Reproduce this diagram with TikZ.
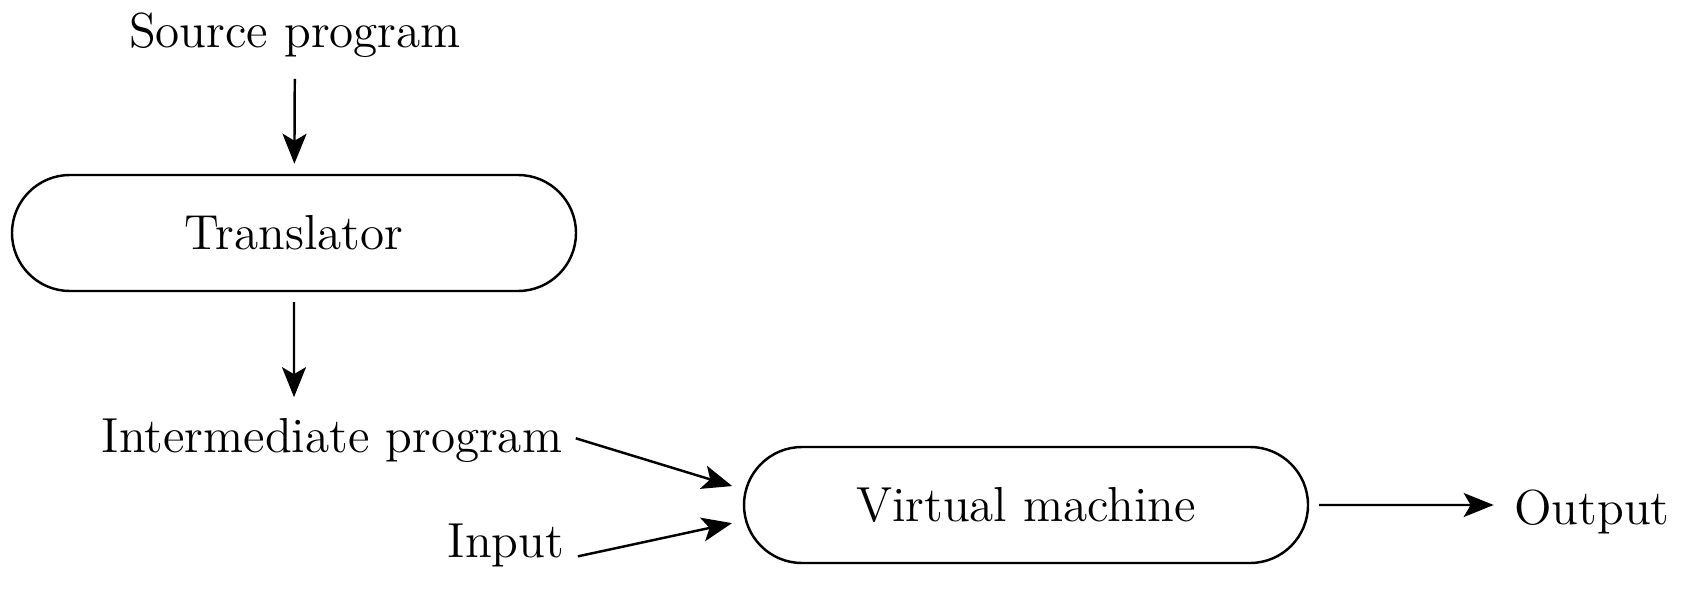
\documentclass[tikz,border=0pt]{standalone}
\usetikzlibrary{shapes.misc,arrows.meta}
\tikzset{every node/.style={font=\fontsize{14}{16}\selectfont, inner sep=1mm},
  stadium/.style={rounded rectangle, draw, line width=0.7pt, minimum width=5.84cm, minimum height=1.16cm},
  flow/.style={-{Stealth[length=3mm,width=2.4mm,inset=0.7mm]}, line width=0.7pt, shorten >=1mm, shorten <=1mm}}

\begin{document}
\begin{tikzpicture}
  \useasboundingbox (0,0) rectangle (16.86,-5.95);
  \node[anchor=base] (src) at (2.95,-0.48) {Source program};
  \node[stadium] (trans) at (2.94,-2.33) {Translator};
  \node[anchor=base] (inter) at (3.32,-4.52) {Intermediate program};
  \node[anchor=base] (inp) at (5.06,-5.57) {Input};
  \node[stadium] (vm) at (10.26,-5.05) {Virtual machine};
  \node[anchor=base] (out) at (15.92,-5.24) {Output};
  \coordinate (vmtop) at ([xshift=-0.1mm,yshift=1.6mm]vm.west);
  \coordinate (vmbot) at ([xshift=-0.1mm,yshift=-1.6mm]vm.west);
  \draw[flow] (src) -- (trans);
  \draw[flow] (trans) -- (trans |- inter.north);
  \draw[flow, shorten <=0.3mm] ([yshift=0.7mm]inter.mid east) -- (vmtop);
  \draw[flow, shorten <=0.3mm] (inp.base east) -- (vmbot);
  \draw[flow] (vm) -- (vm -| out.west);
\end{tikzpicture}
\end{document}
